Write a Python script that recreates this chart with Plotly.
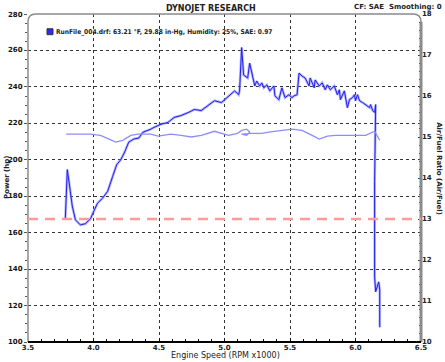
import plotly.graph_objects as go

# ---- data ----
POWER_RPM = [3.785, 3.800, 3.823, 3.838, 3.862, 3.900, 3.938, 3.977, 4.000, 4.031,
             4.069, 4.108, 4.146, 4.177, 4.208, 4.238, 4.269, 4.308, 4.346, 4.377,
             4.438, 4.462, 4.515, 4.569, 4.615, 4.669, 4.723, 4.769, 4.823, 4.877,
             4.923, 4.977, 5.031, 5.077, 5.108, 5.115, 5.131, 5.146, 5.177, 5.192,
             5.231, 5.246, 5.269, 5.285, 5.300, 5.323, 5.346, 5.377, 5.385, 5.415,
             5.438, 5.462, 5.492, 5.515, 5.531, 5.554, 5.569, 5.592, 5.615, 5.646,
             5.654, 5.685, 5.692, 5.723, 5.746, 5.769, 5.785, 5.808, 5.838, 5.862,
             5.877, 5.885, 5.915, 5.938, 5.954, 5.977, 5.992, 6.000, 6.015, 6.031,
             6.054, 6.077, 6.108, 6.115, 6.131, 6.146, 6.154, 6.146, 6.146, 6.154,
             6.177, 6.185, 6.185]
POWER_HP = [167.6, 194.6, 182.7, 174.6, 167.0, 164.3, 164.9, 167.6, 171.4, 176.2,
            178.9, 182.7, 190.8, 197.3, 200.0, 204.3, 209.7, 211.4, 211.9, 215.1,
            216.8, 217.8, 219.5, 220.5, 223.2, 224.3, 225.9, 227.6, 227.0, 229.7,
            232.4, 231.4, 235.1, 237.8, 235.7, 237.8, 261.6, 246.5, 244.9, 253.0,
            240.5, 243.2, 240.5, 242.2, 239.5, 241.1, 237.8, 240.5, 235.1, 233.0,
            239.5, 234.1, 235.7, 234.1, 235.1, 235.7, 247.6, 245.9, 244.9, 240.5,
            244.9, 239.5, 243.8, 240.5, 242.2, 238.4, 241.1, 238.4, 240.5, 235.7,
            238.4, 233.0, 237.8, 228.6, 233.0, 234.1, 235.7, 232.4, 235.7, 232.4,
            231.4, 230.3, 228.6, 230.3, 227.0, 226.0, 230.3, 188.1, 135.7, 127.6,
            133.0, 128.6, 108.1]

AFR_RPM = [3.792, 3.977, 4.054, 4.115, 4.169, 4.223, 4.285, 4.338, 4.438, 4.492,
           4.592, 4.669, 4.746, 4.823, 4.923, 5.031, 5.100, 5.131, 5.169, 5.192,
           5.169, 5.131, 5.208, 5.285, 5.338, 5.515, 5.592, 5.669, 5.723, 5.785,
           5.846, 6.000, 6.077, 6.146, 6.185]
AFR_VALUES = [15.07, 15.07, 15.04, 14.95, 14.875, 14.92, 15.04, 15.07, 15.07, 15.02,
              15.07, 15.04, 15.00, 15.04, 15.14, 15.04, 15.09, 15.16, 15.19, 15.12,
              15.04, 15.07, 15.09, 15.09, 15.12, 15.19, 15.16, 15.04, 14.95, 15.02,
              15.04, 15.04, 15.04, 15.14, 14.92]

TARGET_AFR = 13.0

X_TICKS = [3.5, 4.0, 4.5, 5.0, 5.5, 6.0, 6.5]
X_TICK_LABELS = ["3.5", "4.0", "4.5", "5.0", "5.5", "6.0", "6.5"]
HP_RANGE = [100, 280]
HP_TICKS = [100, 120, 140, 160, 180, 200, 220, 240, 260, 280]
AFR_TICKS = [10, 11, 12, 13, 14, 15, 16, 17, 18]

TITLE = "DYNOJET RESEARCH"
CORNER_TEXT = "CF: SAE  Smoothing: 0"
LEGEND_TEXT = "RunFile_004.drf: 63.21 °F, 29.88 in-Hg, Humidity: 25%, SAE: 0.97"

FONT = "DejaVu Sans"
TICKFONT = dict(family=FONT, size=7, color="#222", weight="bold")

fig = go.Figure()
fig.add_trace(go.Scatter(x=AFR_RPM, y=AFR_VALUES, yaxis="y2", mode="lines",
                         line=dict(color="#8c8cff", width=1.3), hoverinfo="skip"))
fig.add_trace(go.Scatter(x=POWER_RPM, y=POWER_HP, mode="lines",
                         line=dict(color="rgba(130,130,255,0.6)", width=2.6), hoverinfo="skip"))
fig.add_trace(go.Scatter(x=POWER_RPM, y=POWER_HP, mode="lines",
                         line=dict(color="#1f1fee", width=1.0), hoverinfo="skip"))

fig.update_layout(
    width=445, height=362, autosize=False,
    margin=dict(l=28, r=24, t=10, b=19),
    paper_bgcolor="white", plot_bgcolor="white",
    showlegend=False,
    xaxis=dict(range=[3.5, 6.5], tickvals=X_TICKS, ticktext=X_TICK_LABELS,
               showgrid=True, gridcolor="#333", griddash="dot", gridwidth=1,
               zeroline=False, showline=False, ticks="inside", ticklen=4,
               tickcolor="#111", tickfont=TICKFONT, ticklabeloverflow="allow",
               minor=dict(dtick=0.1, ticks="inside", ticklen=3, tickcolor="#111", showgrid=False)),
    yaxis=dict(range=HP_RANGE, tickvals=HP_TICKS, showticklabels=False,
               showgrid=True, gridcolor="#333", griddash="dot", gridwidth=1,
               zeroline=False, showline=False, ticks="outside", ticklen=3,
               tickcolor="#555",
               minor=dict(dtick=5, ticks="outside", ticklen=2, tickcolor="#555", showgrid=False)),
    yaxis2=dict(range=[10, 18], tickvals=AFR_TICKS, overlaying="y", side="right",
                showgrid=False, zeroline=False, showline=False, ticks="inside",
                ticklen=3, tickcolor="#333", tickfont=TICKFONT, ticklabeloverflow="allow",
                minor=dict(dtick=0.2, ticks="inside", ticklen=2, tickcolor="#333")),
)

# left tick labels (paper-positioned along the hp range)
for v in HP_TICKS:
    frac = (v - HP_RANGE[0]) / (HP_RANGE[1] - HP_RANGE[0])
    fig.add_annotation(text=str(v), xref="paper", yref="paper", x=(25 - 28) / 393, y=frac,
                       xanchor="right", yanchor="middle", yshift=-1 if frac >= 1 else 0,
                       showarrow=False, font=dict(family=FONT, size=7, color="#111", weight="bold"))

# frame with rounded top corners
rx, ry = 0.02, 0.024
fig.add_shape(type="path", xref="paper", yref="paper",
              path=f"M 0,0 L 0,{1-ry} Q 0,1 {rx},1 L {1-rx},1 Q 1,1 1,{1-ry} L 1,0",
              line=dict(color="#8a8a8a", width=1.5))
fig.add_shape(type="line", xref="paper", yref="paper", x0=1, x1=1, y0=0, y1=1 - ry,
              line=dict(color="#8a8a8a", width=3))
fig.add_shape(type="line", xref="paper", yref="paper", x0=0, x1=1, y0=0, y1=0,
              line=dict(color="#000", width=2))

# target AFR dashed line
fig.add_shape(type="line", xref="paper", yref="y2", x0=0, x1=1, y0=TARGET_AFR, y1=TARGET_AFR,
              line=dict(color="#ff9a9a", width=2.5, dash="10px,7px"))

# legend marker and text
fig.add_shape(type="rect", xref="paper", yref="paper",
              x0=(47 - 28) / 393, x1=(53 - 28) / 393, y0=(343 - 31) / 333, y1=(343 - 25) / 333,
              fillcolor="#2a2aff", line=dict(color="#333", width=1))
fig.add_annotation(text=LEGEND_TEXT, xref="paper", yref="paper",
                   x=(54 - 28) / 393, y=(343 - 28) / 333, xanchor="left", yanchor="middle",
                   showarrow=False,
                   font=dict(family="DejaVu Sans Condensed", size=6.6, color="#222", weight="bold"))

fig.add_annotation(text=TITLE, xref="paper", yref="paper", x=(211 - 28) / 393, y=(343 - 4) / 333,
                   xanchor="center", yanchor="middle", showarrow=False,
                   font=dict(family=FONT, size=8, color="#222", weight="bold"))
fig.add_annotation(text=CORNER_TEXT, xref="paper", yref="paper", x=(444 - 28) / 393, y=(343 - 3) / 333,
                   xanchor="right", yanchor="middle", showarrow=False,
                   font=dict(family=FONT, size=7, color="#222", weight="bold"))
fig.add_annotation(text="Power (hp)", xref="paper", yref="paper", x=(7 - 28) / 393, y=0.5,
                   xanchor="center", yanchor="middle", textangle=-90, showarrow=False,
                   font=dict(family=FONT, size=7, color="#222", weight="bold"))
fig.add_annotation(text="Air/Fuel Ratio (Air/Fuel)", xref="paper", yref="paper", x=(439 - 28) / 393,
                   y=0.53, xanchor="center", yanchor="middle", textangle=90, showarrow=False,
                   font=dict(family=FONT, size=7, color="#222", weight="bold"))
fig.add_annotation(text="Engine Speed (RPM x1000)", xref="paper", yref="paper", x=(225 - 28) / 393,
                   y=(343 - 357) / 333, xanchor="center", yanchor="middle", showarrow=False,
                   font=dict(family=FONT, size=8, color="#222"))

fig.write_html("out.html", config={"displayModeBar": False},
               post_script="document.body.style.margin='0';document.body.style.overflow='hidden';")
